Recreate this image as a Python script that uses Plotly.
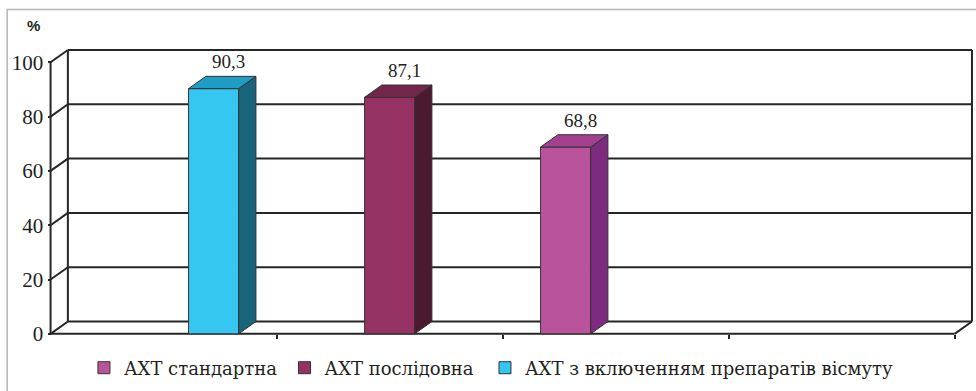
import plotly.graph_objects as go

# ---- data -------------------------------------------------------------
categories = [0, 1, 2, 3]
series_names = ["АХТ стандартна", "АХТ послідовна", "АХТ з включенням препаратів вісмуту"]
standard = [None, None, 68.8, None]
sequential = [None, 87.1, None, None]
bismuth = [90.3, None, None, None]
value_labels = {68.8: "68,8", 87.1: "87,1", 90.3: "90,3"}
y_ticks = [0, 20, 40, 60, 80, 100]
y_tick_text = ["0", "20", "40", "60", "80", "100"]

# ---- styling ----------------------------------------------------------
front_colors = ["#B9539C", "#963163", "#36C6F2"]
side_colors = ["#7E2A7E", "#4B1A31", "#17647B"]
top_colors = ["#A3408F", "#71264A", "#1E9CC3"]
line_col = "#262626"
serif = "Liberation Serif, Times New Roman, serif"
legend_font = "DejaVu Serif, serif"

BARGAP = 0.336
DX = 0.0766      # depth offset of the 3-D box along x (data units)
DY = 4.53        # depth offset along y (data units)
X_RANGE = [-0.56, 3.59]
Y_RANGE = [-3, 106]
LEGEND_X = [0.086, 0.2915, 0.4969]   # left edge of each legend entry (container units)

fig = go.Figure()
series = [standard, sequential, bismuth]
legend_ids = ["legend", "legend2", "legend3"]
for name, vals, col, lid in zip(series_names, series, front_colors, legend_ids):
    fig.add_trace(go.Bar(
        x=categories, y=vals, name=name, legend=lid,
        marker=dict(color=col, line=dict(color="#333333", width=1)),
        hoverinfo="skip",
    ))

shapes = []
x0_wall = categories[0] - 0.5
x1_wall = categories[-1] + 0.5

def seg(xa, ya, xb, yb, width=2, layer="below"):
    shapes.append(dict(type="line", xref="x", yref="y", x0=xa, y0=ya, x1=xb, y1=yb,
                       line=dict(color=line_col, width=width), layer=layer))

# back wall gridlines and side-wall diagonals
for v in y_ticks:
    seg(x0_wall + DX, v + DY, x1_wall + DX, v + DY)
    seg(x0_wall, v, x0_wall + DX, v + DY)
# wall edges and front axis
seg(x0_wall + DX, DY, x0_wall + DX, y_ticks[-1] + DY)
seg(x1_wall + DX, DY, x1_wall + DX, y_ticks[-1] + DY)
seg(x0_wall, 0, x0_wall, y_ticks[-1])
seg(x0_wall, 0, x1_wall, 0)
seg(x1_wall, 0, x1_wall + DX, DY)

# 3-D side and top faces of each bar
n = len(series)
w = (1 - BARGAP) / n
annotations = []
for i, (vals, sc, tc) in enumerate(zip(series, side_colors, top_colors)):
    for cat, v in zip(categories, vals):
        if v is None:
            continue
        c = cat - (1 - BARGAP) / 2 + (i + 0.5) * w
        l, r = c - w / 2, c + w / 2
        side = f"M{r},0 L{r + DX},{DY} L{r + DX},{v + DY} L{r},{v} Z"
        top = f"M{l},{v} L{l + DX},{v + DY} L{r + DX},{v + DY} L{r},{v} Z"
        for path, col in ((side, sc), (top, tc)):
            shapes.append(dict(type="path", xref="x", yref="y", path=path,
                               fillcolor=col, line=dict(color="#333333", width=1),
                               layer="above"))
        annotations.append(dict(x=c + DX * 0.85, y=v, xref="x", yref="y",
                                text=value_labels[v], showarrow=False,
                                yanchor="middle", yshift=27,
                                font=dict(family=serif, size=19, color="#231f20")))

# outer frame
shapes.append(dict(type="rect", xref="paper", yref="paper",
                   x0=-0.0318, y0=-0.5, x1=1.2, y1=1.123,
                   line=dict(color="#b4b4b4", width=1.5), layer="below"))

annotations.append(dict(text="<b>%</b>", xref="paper", yref="paper",
                        x=-0.0036, y=1.0686, showarrow=False,
                        xanchor="center", yanchor="middle",
                        font=dict(family="Liberation Sans, Arial, sans-serif",
                                  size=15, color="#231f20")))

legend_common = dict(orientation="h", xref="container", yref="container",
                     y=0.0588, xanchor="left", yanchor="middle",
                     bgcolor="rgba(0,0,0,0)",
                     font=dict(family=legend_font, size=18, color="#231f20"),
                     itemclick=False, itemdoubleclick=False)

fig.update_layout(
    width=976, height=391,
    margin=dict(l=37.4, r=0.7, t=46.3, b=48.9),
    paper_bgcolor="white", plot_bgcolor="white",
    barmode="group", bargap=BARGAP, bargroupgap=0,
    shapes=shapes, annotations=annotations,
    showlegend=True,
    legend=dict(x=LEGEND_X[0], **legend_common),
    legend2=dict(x=LEGEND_X[1], **legend_common),
    legend3=dict(x=LEGEND_X[2], **legend_common),
    xaxis=dict(range=X_RANGE, showgrid=False, zeroline=False, showline=False,
               tickvals=[x0_wall + k for k in range(1, len(categories) + 1)],
               ticks="outside", ticklen=4, tickwidth=1.5, tickcolor=line_col,
               showticklabels=False,
               anchor="free",
               position=(0 - Y_RANGE[0]) / (Y_RANGE[1] - Y_RANGE[0])),
    yaxis=dict(range=Y_RANGE, showgrid=False, zeroline=False, showline=False,
               tickvals=y_ticks, ticktext=y_tick_text,
               ticks="outside", ticklen=3, tickwidth=1.5, tickcolor=line_col,
               tickfont=dict(family=serif, size=21, color="#231f20"),
               anchor="free",
               position=(x0_wall - X_RANGE[0]) / (X_RANGE[1] - X_RANGE[0])),
)

fig.write_html("out.html")
